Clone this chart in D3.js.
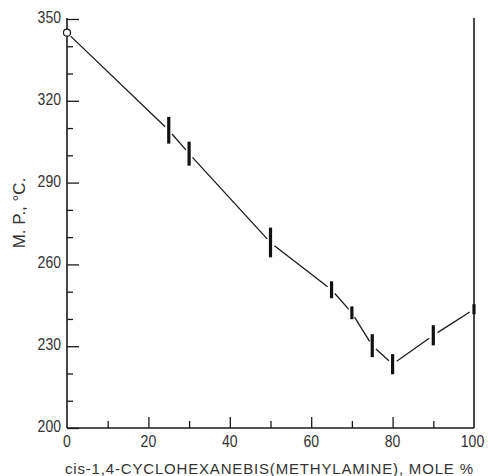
<!DOCTYPE html>
<html>
<head>
<meta charset="utf-8">
<script src="https://cdn.jsdelivr.net/npm/d3@7"></script>
<style>
  html, body { margin: 0; padding: 0; background: #fff; }
  svg { display: block; font-family: "Liberation Sans", Arial, sans-serif; }
</style>
</head>
<body>
<svg id="chart" width="488" height="476"></svg>
<script>
// Melting point vs. mole % cis-1,4-cyclohexanebis(methylamine)
const molePct = [25, 30, 50, 65, 70, 75, 80, 90, 100];
const mpLow   = [304.3, 296.2, 262.6, 247.6, 239.9, 226.0, 219.7, 230.3, 241.7];
const mpHigh  = [314.1, 305.0, 273.5, 253.8, 244.6, 234.4, 227.1, 237.7, 245.4];
const mpMid   = [309.2, 300.6, 268.0, 250.7, 242.2, 230.2, 223.4, 234.0, 243.5];
// pure homopolymer end point (open circle)
const pureX = [0];
const pureMp = [345];

const xTicks = [0, 20, 40, 60, 80, 100];
const xMinor = [10, 30, 50, 70, 90];
const yTicks = [200, 230, 260, 290, 320, 350];
const yMinor = [210, 220, 240, 250, 270, 280, 300, 310, 330, 340];

const svg = d3.select("#chart");
const x = d3.scaleLinear().domain([0, 100]).range([67, 474]);
const y = d3.scaleLinear().domain([200, 350]).range([428, 19]);
const ink = "#1a1a1a";

// axes frame: left, bottom, right
svg.append("line").attr("x1", x(0)).attr("x2", x(0)).attr("y1", y(350) - 1).attr("y2", y(200))
  .attr("stroke", ink).attr("stroke-width", 1.6);
svg.append("line").attr("x1", x(0)).attr("x2", x(100)).attr("y1", y(200)).attr("y2", y(200))
  .attr("stroke", ink).attr("stroke-width", 1.6);
svg.append("line").attr("x1", x(100)).attr("x2", x(100)).attr("y1", y(350) - 1).attr("y2", y(200))
  .attr("stroke", ink).attr("stroke-width", 1.6);

// inward ticks on the left axis
const yAxisMajor = d3.axisRight(y).tickValues(yTicks).tickSize(12).tickFormat("");
const yAxisMinor = d3.axisRight(y).tickValues(yMinor).tickSize(6).tickFormat("");
[yAxisMajor, yAxisMinor].forEach(ax => {
  const g = svg.append("g").attr("transform", `translate(${x(0)},0)`).call(ax);
  g.select(".domain").remove();
  g.selectAll("line").attr("stroke", ink).attr("stroke-width", 1.3);
});
// inward ticks on the bottom axis
const xAxisMajor = d3.axisTop(x).tickValues(xTicks.slice(1, -1)).tickSize(11).tickFormat("");
const xAxisMinor = d3.axisTop(x).tickValues(xMinor).tickSize(7).tickFormat("");
[xAxisMajor, xAxisMinor].forEach(ax => {
  const g = svg.append("g").attr("transform", `translate(0,${y(200)})`).call(ax);
  g.select(".domain").remove();
  g.selectAll("line").attr("stroke", ink).attr("stroke-width", 1.3);
});

// tick labels (narrow numerals)
const numWidth = d => String(d).length * 7.8;
svg.append("g").selectAll("text").data(yTicks).join("text")
  .attr("x", x(0) - 6).attr("y", d => y(d) + 4)
  .attr("text-anchor", "end").attr("font-size", 16).attr("fill", "#333")
  .attr("textLength", numWidth).attr("lengthAdjust", "spacingAndGlyphs")
  .text(d => d);
svg.append("g").selectAll("text").data(xTicks).join("text")
  .attr("x", d => x(d) - (d === 100 ? 1.5 : 0)).attr("y", 447)
  .attr("text-anchor", "middle").attr("font-size", 16).attr("fill", "#333")
  .attr("textLength", numWidth).attr("lengthAdjust", "spacingAndGlyphs")
  .text(d => d);

// axis titles
svg.append("text")
  .attr("x", 65).attr("y", 474)
  .attr("font-size", 15).attr("fill", "#333")
  .attr("textLength", 408).attr("lengthAdjust", "spacing")
  .text("cis-1,4-CYCLOHEXANEBIS(METHYLAMINE), MOLE %");
svg.append("text")
  .attr("transform", "translate(25,213) rotate(-90)")
  .attr("text-anchor", "middle").attr("font-size", 17).attr("fill", "#333")
  .text("M. P., °C.");

// trend segments joining the points, broken just short of each mark
const nodes = [{px: x(pureX[0]), py: y(pureMp[0]), gap: 5}]
  .concat(molePct.map((m, i) => ({px: x(m), py: y(mpMid[i]), gap: 5})));
for (let i = 0; i < nodes.length - 1; i++) {
  const a = nodes[i], b = nodes[i + 1];
  const dx = b.px - a.px, dy = b.py - a.py, len = Math.hypot(dx, dy);
  const ux = dx / len, uy = dy / len;
  svg.append("line")
    .attr("x1", a.px + ux * a.gap).attr("y1", a.py + uy * a.gap)
    .attr("x2", b.px - ux * b.gap).attr("y2", b.py - uy * b.gap)
    .attr("stroke", ink).attr("stroke-width", 1.3);
}

// melting range bars
svg.append("g").selectAll("line").data(molePct).join("line")
  .attr("x1", d => x(d)).attr("x2", d => x(d))
  .attr("y1", (d, i) => y(mpHigh[i])).attr("y2", (d, i) => y(mpLow[i]))
  .attr("stroke", "#111").attr("stroke-width", 3.2);

// open circle at 0 mole %
svg.append("circle")
  .attr("cx", x(pureX[0])).attr("cy", y(pureMp[0])).attr("r", 3.5)
  .attr("fill", "#fff").attr("stroke", ink).attr("stroke-width", 1.2);
</script>
</body>
</html>
